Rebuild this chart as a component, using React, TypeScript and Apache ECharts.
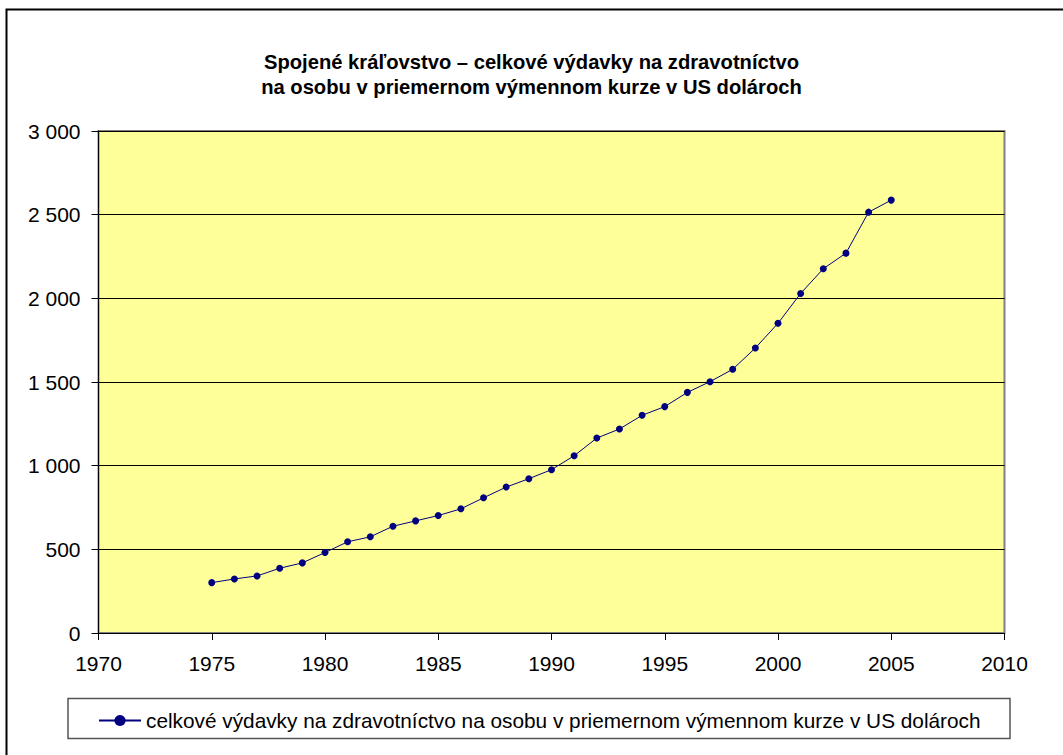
import React, { useEffect, useRef } from "react";
import * as echarts from "echarts";

const years = [1975, 1976, 1977, 1978, 1979, 1980, 1981, 1982, 1983, 1984, 1985, 1986, 1987, 1988, 1989, 1990, 1991, 1992, 1993, 1994, 1995, 1996, 1997, 1998, 1999, 2000, 2001, 2002, 2003, 2004, 2005];
const values = [301, 323, 341, 387, 419, 481, 545, 575, 638, 670, 702, 742, 808, 872, 922, 976, 1059, 1165, 1219, 1301, 1353, 1438, 1502, 1576, 1703, 1851, 2029, 2177, 2270, 2515, 2587];

const seriesName = "celkové výdavky na zdravotníctvo na osobu v priemernom výmennom kurze v US dolároch";
const titleText = "Spojené kráľovstvo – celkové výdavky na zdravotníctvo\nna osobu v priemernom výmennom kurze v US dolároch";

const FONT = "'Liberation Sans', Arial, sans-serif";

export default function App() {
  const ref = useRef<HTMLDivElement>(null);
  useEffect(() => {
    if (!ref.current) return;
    const chart = echarts.init(ref.current, null, { renderer: "svg" });
    const data = years.map((y, i) => [y, values[i]]);
    chart.setOption({
      animation: false,
      backgroundColor: "#ffffff",
      textStyle: { fontFamily: FONT },
      title: {
        text: titleText,
        left: "center",
        top: 44.5,
        textStyle: { fontFamily: FONT, fontSize: 20.2, fontWeight: "bold", color: "#000", lineHeight: 25 },
      },
      graphic: [
        {
          type: "rect",
          shape: { x: 6.5, y: 9.5, width: 1200, height: 900 },
          style: { fill: "none", stroke: "#000", lineWidth: 2 },
          silent: true,
          z: 10,
        },
        {
          type: "rect",
          shape: { x: 68, y: 698.5, width: 942, height: 40 },
          style: { fill: "#fff", stroke: "#555", lineWidth: 1.5 },
          silent: true,
          z: 0,
        },
      ],
      legend: {
        data: [seriesName],
        left: 93,
        top: 705,
        itemWidth: 42,
        itemHeight: 14,
        itemGap: 0,
        textStyle: { fontFamily: FONT, fontSize: 20.8, color: "#000" },
        z: 5,
      },
      grid: {
        left: 98.5,
        right: 58.5,
        top: 131,
        bottom: 122,
        show: true,
        backgroundColor: "#FFFF99",
        borderColor: "#808080",
        borderWidth: 2,
      },
      xAxis: {
        type: "value",
        min: 1970,
        max: 2010,
        interval: 5,
        axisLine: { show: true, lineStyle: { color: "#000", width: 1 } },
        axisTick: { show: true, inside: false, length: 7, lineStyle: { color: "#000" } },
        axisLabel: {
          fontFamily: FONT,
          fontSize: 21,
          color: "#000",
          margin: 20,
          formatter: (v: number) => String(v),
        },
        splitLine: { show: false },
      },
      yAxis: {
        type: "value",
        min: 0,
        max: 3000,
        interval: 500,
        axisLine: { show: true, lineStyle: { color: "#000", width: 1 } },
        axisTick: { show: true, inside: false, length: 7, lineStyle: { color: "#000" } },
        axisLabel: {
          fontFamily: FONT,
          fontSize: 21,
          color: "#000",
          margin: 18,
          formatter: (v: number) => String(v).replace(/\B(?=(\d{3})+(?!\d))/g, " "),
        },
        splitLine: { show: true, lineStyle: { color: "#000", width: 1 } },
      },
      series: [
        {
          name: seriesName,
          type: "line",
          data,
          symbol: "circle",
          symbolSize: 7,
          color: "#000080",
          lineStyle: { color: "#000080", width: 1 },
          itemStyle: { color: "#000080" },
        },
      ],
    });
    return () => chart.dispose();
  }, []);
  return <div ref={ref} style={{ position: "fixed", left: 0, top: 0, width: 1063, height: 755 }} />;
}
